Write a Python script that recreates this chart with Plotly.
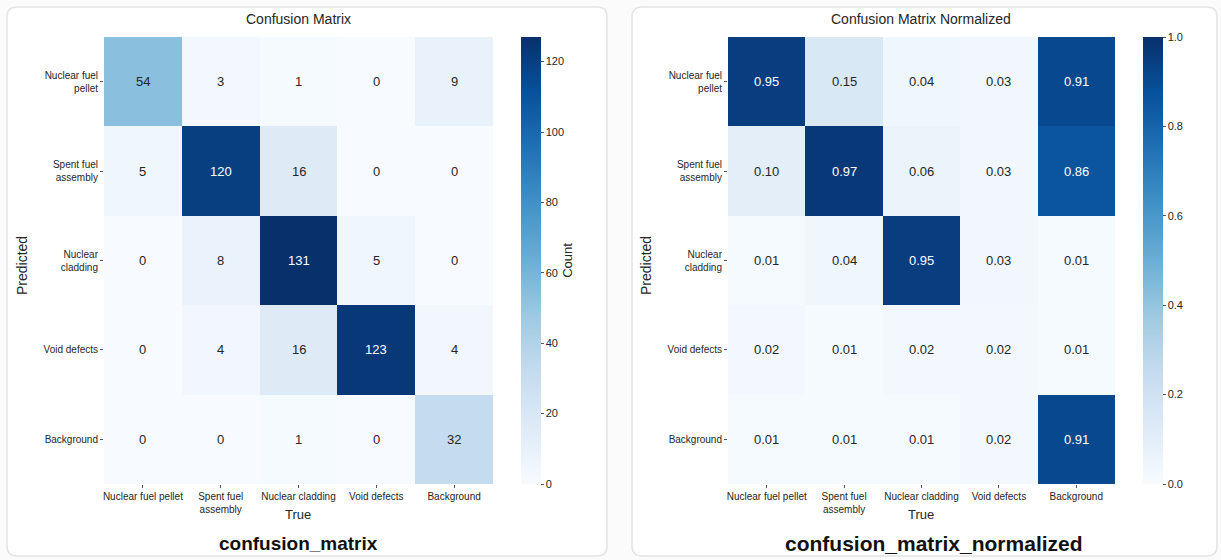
import plotly.graph_objects as go

# ---- data ----
classes = ["Nuclear fuel pellet", "Spent fuel assembly", "Nuclear cladding",
           "Void defects", "Background"]
x_tick_text = ["Nuclear fuel pellet", "Spent fuel<br>assembly", "Nuclear cladding",
               "Void defects", "Background"]
y_tick_text = ["Nuclear fuel<br>pellet", "Spent fuel<br>assembly", "Nuclear<br>cladding",
               "Void defects", "Background"]

# rows = predicted class, columns = true class
counts = [
    [54, 3, 1, 0, 9],
    [5, 120, 16, 0, 0],
    [0, 8, 131, 5, 0],
    [0, 4, 16, 123, 4],
    [0, 0, 1, 0, 32],
]
normalized = [
    [0.95, 0.15, 0.04, 0.03, 0.91],
    [0.10, 0.97, 0.06, 0.03, 0.86],
    [0.01, 0.04, 0.95, 0.03, 0.01],
    [0.02, 0.01, 0.02, 0.02, 0.01],
    [0.01, 0.01, 0.01, 0.02, 0.91],
]
count_ticks = [0, 20, 40, 60, 80, 100, 120]
norm_ticks = [0.0, 0.2, 0.4, 0.6, 0.8, 1.0]
norm_tick_text = ["0.0", "0.2", "0.4", "0.6", "0.8", "1.0"]

# ---- style ----
W, H = 1221, 560
FONT = "Liberation Sans, Arial, Helvetica, sans-serif"
TEXT = "#262626"
BLUES = [
    [0.0, "#f7fbff"], [0.125, "#deebf7"], [0.25, "#c6dbef"], [0.375, "#9ecae1"],
    [0.5, "#6baed6"], [0.625, "#4292c6"], [0.75, "#2171b5"], [0.875, "#08519c"],
    [1.0, "#08306b"],
]


def px(x):
    return x / W


def py(y):
    return 1 - y / H


def rounded_rect(x0, y0, x1, y1, r):
    # path in paper coordinates built from pixel corners
    X = lambda v: f"{px(v):.5f}"
    Y = lambda v: f"{py(v):.5f}"
    return (
        f"M {X(x0 + r)},{Y(y0)} L {X(x1 - r)},{Y(y0)} Q {X(x1)},{Y(y0)} {X(x1)},{Y(y0 + r)} "
        f"L {X(x1)},{Y(y1 - r)} Q {X(x1)},{Y(y1)} {X(x1 - r)},{Y(y1)} "
        f"L {X(x0 + r)},{Y(y1)} Q {X(x0)},{Y(y1)} {X(x0)},{Y(y1 - r)} "
        f"L {X(x0)},{Y(y0 + r)} Q {X(x0)},{Y(y0)} {X(x0 + r)},{Y(y0)} Z"
    )


fig = go.Figure()

panels = [
    dict(z=counts, ax="", box=(104, 37, 493, 484), cb=521, zmax=127,
         tv=count_ticks, tt=[str(t) for t in count_ticks], fmt="{:d}", thr=70,
         cbtitle="Count"),
    dict(z=normalized, ax="2", box=(728, 37, 1115, 484), cb=1143, zmax=1.0,
         tv=norm_ticks, tt=norm_tick_text, fmt="{:.2f}", thr=0.55, cbtitle=""),
]

annotations = []
for p in panels:
    x0, y0, x1, y1 = p["box"]
    fig.add_trace(go.Heatmap(
        z=p["z"], x=classes, y=classes,
        xaxis="x" + p["ax"], yaxis="y" + p["ax"],
        colorscale=BLUES, zmin=0, zmax=p["zmax"],
        hoverinfo="skip",
        colorbar=dict(
            x=px(p["cb"]), xanchor="left", xref="paper",
            y=py((y0 + y1) / 2), yanchor="middle",
            len=y1 - y0, lenmode="pixels",
            thickness=20, thicknessmode="pixels",
            xpad=0, ypad=0, outlinewidth=0,
            tickvals=p["tv"], ticktext=p["tt"],
            ticks="outside", ticklen=3, tickcolor="#555",
            tickfont=dict(family=FONT, size=11, color=TEXT),
            title=dict(text=p["cbtitle"], side="right",
                       font=dict(family=FONT, size=13, color=TEXT)),
        ),
    ))
    # cell value labels
    for i, row in enumerate(p["z"]):
        for j, v in enumerate(row):
            annotations.append(dict(
                x=classes[j], y=classes[i], xref="x" + p["ax"], yref="y" + p["ax"],
                text=p["fmt"].format(v), showarrow=False,
                font=dict(family=FONT, size=13,
                          color="white" if v > p["thr"] else TEXT),
            ))

axis_common = dict(
    type="category", showgrid=False, zeroline=False, showline=False,
    ticks="outside", ticklen=3, tickcolor="#555",
    tickfont=dict(family=FONT, size=10, color=TEXT),
)
layout_axes = {}
for p in panels:
    x0, y0, x1, y1 = p["box"]
    sfx = p["ax"]
    layout_axes["xaxis" + sfx] = dict(axis_common, domain=[px(x0), px(x1)],
                                      anchor="y" + sfx, tickvals=classes,
                                      ticktext=x_tick_text, tickangle=0)
    layout_axes["yaxis" + sfx] = dict(axis_common, domain=[py(y1), py(y0)],
                                      anchor="x" + sfx, autorange="reversed",
                                      tickvals=classes, ticktext=y_tick_text)

# titles, axis names, panel captions
texts = [
    ("Confusion Matrix", 298, 19, 14, False, 0),
    ("Confusion Matrix Normalized", 921, 19, 14, False, 0),
    ("True", 298, 514, 13, False, 0),
    ("True", 921, 514, 13, False, 0),
    ("Predicted", 22, 266, 14, False, -90),
    ("Predicted", 646, 266, 14, False, -90),
    ("confusion_matrix", 298, 543, 19, True, 0),
    ("confusion_matrix_normalized", 934, 543, 21, True, 0),
]
for t, x, y, s, bold, ang in texts:
    annotations.append(dict(
        text=f"<b>{t}</b>" if bold else t, x=px(x), y=py(y),
        xref="paper", yref="paper", xanchor="center", yanchor="middle",
        showarrow=False, textangle=ang,
        font=dict(family=FONT, size=s, color="#111" if bold else TEXT),
    ))

shapes = [
    dict(type="path", path=rounded_rect(7, 7, 607, 556, 10), xref="paper", yref="paper",
         line=dict(color="#e4e4e4", width=1.5), fillcolor="white", layer="below"),
    dict(type="path", path=rounded_rect(632, 7, 1217, 556, 10), xref="paper", yref="paper",
         line=dict(color="#e4e4e4", width=1.5), fillcolor="white", layer="below"),
]

fig.update_layout(
    width=W, height=H,
    margin=dict(l=0, r=0, t=0, b=0),
    paper_bgcolor="#fbfbfb", plot_bgcolor="white",
    font=dict(family=FONT, color=TEXT),
    annotations=annotations, shapes=shapes,
    **layout_axes,
)

fig.write_html("out.html")
